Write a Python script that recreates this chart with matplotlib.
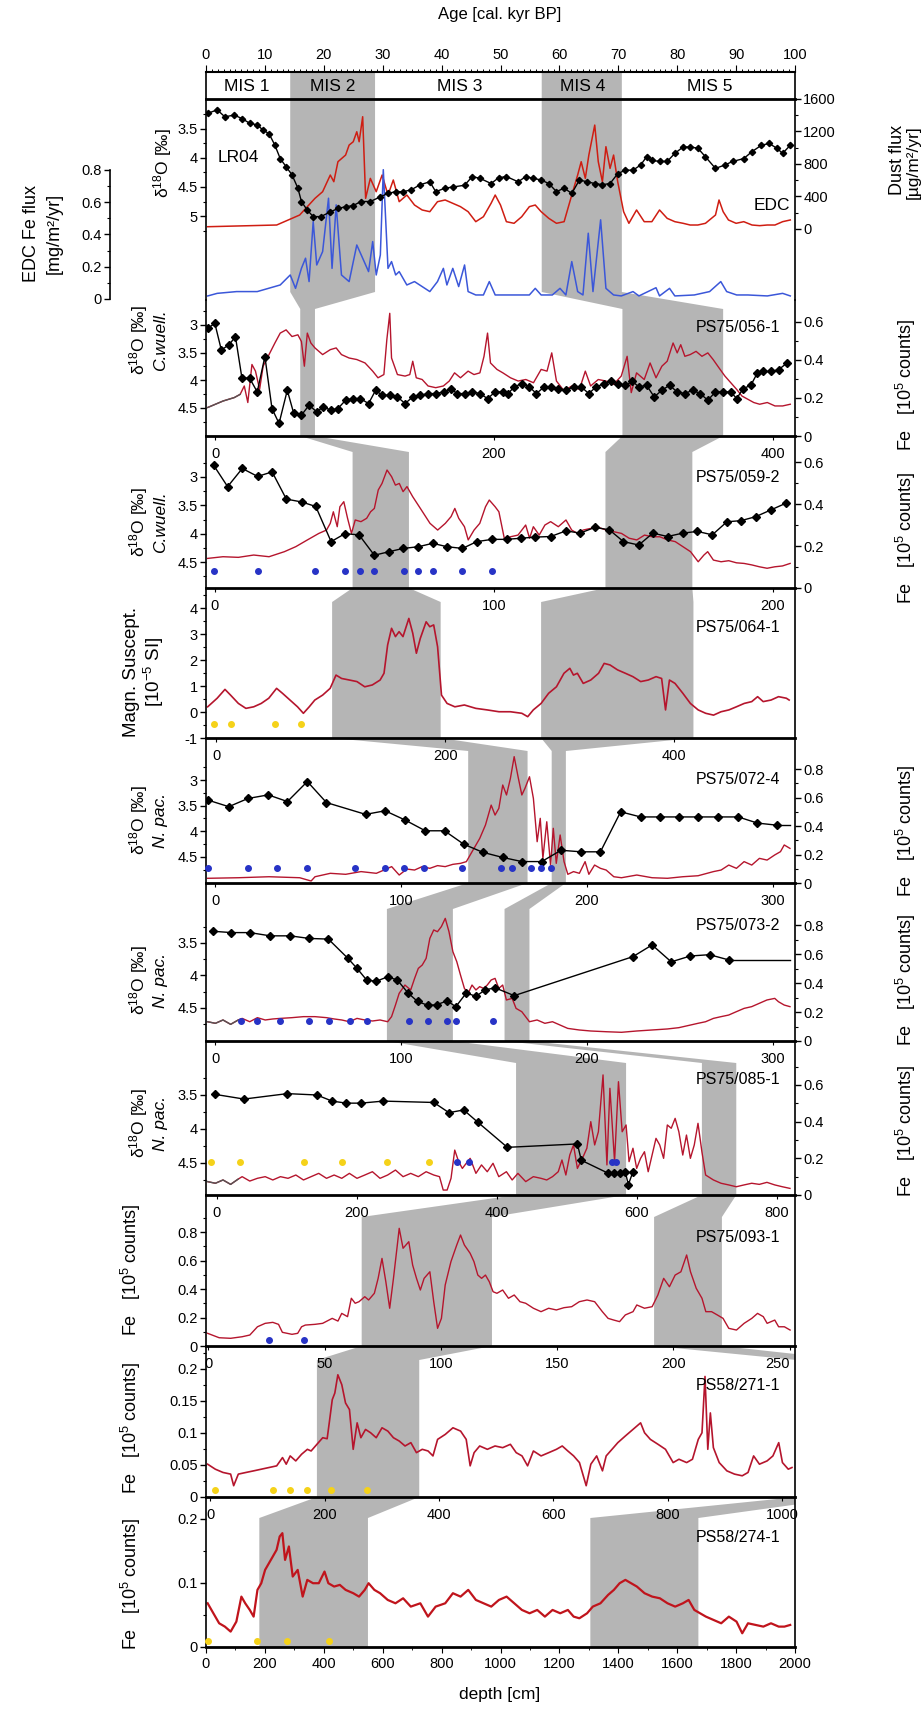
import matplotlib
matplotlib.use('Agg')
import matplotlib.pyplot as plt
from matplotlib import font_manager
from matplotlib.patches import Polygon, Rectangle
from matplotlib.ticker import FuncFormatter

plt.rcParams['font.family'] = ['Liberation Sans', 'DejaVu Sans']
plt.rcParams['mathtext.fontset'] = 'custom'
plt.rcParams['mathtext.rm'] = 'Liberation Sans'
plt.rcParams['mathtext.it'] = 'Liberation Sans:italic'
plt.rcParams['mathtext.bf'] = 'Liberation Sans:bold'

_names = {f.name for f in font_manager.fontManager.ttflist}
HAS_NARROW = 'Liberation Sans Narrow' in _names

# ---------------- data ----------------
mis_bounds = [0, 14, 29, 57, 71, 100]
mis_names = ['MIS 1', 'MIS 2', 'MIS 3', 'MIS 4', 'MIS 5']

# LR04 benthic stack (age kyr, d18O)
lr04_age = [0.3, 1.9, 3.2, 4.8, 6.1, 7.4, 8.7, 9.7, 10.7, 11.7,
            12.6, 13.6, 14.6, 15.6, 16.2, 17.2, 18.2, 19.5, 21.1, 22.4,
            23.7, 25.0, 26.3, 27.9, 29.6, 30.9, 32.2, 33.5, 34.8, 36.4,
            38.0, 39.0, 40.6, 41.9, 43.9, 45.2, 46.5, 48.4, 49.7, 51.0,
            53.0, 54.3, 55.6, 56.9, 58.2, 59.5, 60.8, 62.1, 63.4, 64.7,
            66.0, 67.3, 68.6, 69.9, 71.2, 72.5, 73.8, 74.8, 75.7, 77.0,
            78.3, 79.6, 81.0, 82.2, 83.5, 84.8, 86.5, 88.1, 89.4, 91.3,
            92.7, 94.3, 95.6, 96.9, 97.9, 99.2]
lr04_d18o = [3.23, 3.17, 3.29, 3.26, 3.32, 3.40, 3.43, 3.52, 3.58, 3.78,
             4.01, 4.15, 4.29, 4.52, 4.75, 4.90, 5.01, 5.01, 4.93, 4.87,
             4.84, 4.82, 4.75, 4.75, 4.67, 4.61, 4.58, 4.58, 4.55, 4.46,
             4.41, 4.58, 4.52, 4.50, 4.47, 4.32, 4.35, 4.44, 4.34, 4.32,
             4.41, 4.32, 4.35, 4.38, 4.44, 4.58, 4.52, 4.61, 4.38, 4.41,
             4.44, 4.46, 4.44, 4.27, 4.21, 4.21, 4.12, 3.98, 4.04, 4.06,
             4.06, 3.92, 3.81, 3.81, 3.83, 3.98, 4.18, 4.12, 4.06, 4.01,
             3.89, 3.78, 3.75, 3.83, 3.92, 3.78]

# EDC dust flux
edc_age = [0.3, 12.0, 15.9, 18.5, 19.8, 21.1, 21.7, 22.4, 23.7, 24.3,
           25.0, 25.6, 26.0, 26.6, 27.1, 27.9, 28.9, 29.9, 30.9, 31.8,
           32.8, 34.1, 35.4, 36.7, 38.0, 39.3, 40.6, 41.9, 43.2, 44.5,
           45.8, 47.1, 48.4, 49.1, 50.0, 51.0, 52.3, 53.6, 54.9, 55.9,
           56.9, 58.2, 59.5, 60.8, 62.1, 63.1, 63.7, 64.4, 65.0, 66.0,
           66.6, 67.3, 67.9, 68.6, 69.2, 69.9, 70.9, 71.8, 73.1, 74.4,
           75.7, 77.0, 78.3, 79.6, 81.0, 82.2, 83.5, 84.8, 86.5, 87.1,
           87.8, 88.7, 90.0, 91.3, 92.7, 94.0, 95.3, 96.6, 97.9, 99.2]
edc_dust = [28, 49, 172, 377, 459, 664, 582, 828, 910, 1033,
            1074, 1197, 1074, 1382, 377, 623, 459, 664, 418, 603,
            336, 418, 295, 234, 213, 336, 357, 316, 275, 213,
            90, 151, 316, 418, 295, 90, 70, 151, 275, 295,
            213, 131, 70, 90, 418, 664, 828, 623, 910, 1279,
            828, 582, 1013, 746, 910, 582, 213, 70, 234, 90,
            90, 234, 131, 90, 70, 49, 49, 70, 172, 357,
            213, 111, 70, 90, 49, 41, 49, 49, 90, 111]

# EDC Fe flux
edcfe_age = [0.3, 1.9, 5.2, 8.7, 12.6, 14.3, 15.2, 16.2, 16.9, 17.5,
             18.2, 18.8, 19.8, 20.8, 21.4, 22.1, 23.0, 24.3, 25.6, 26.6,
             27.6, 28.3, 28.9, 29.6, 30.1, 30.9, 31.5, 32.2, 32.8, 34.1,
             35.4, 36.7, 38.0, 39.3, 40.3, 40.9, 41.9, 42.9, 43.9, 44.5,
             45.8, 47.1, 48.1, 49.1, 51.0, 53.0, 54.9, 55.9, 56.9, 58.8,
             60.1, 61.1, 62.1, 63.1, 64.0, 64.9, 65.7, 67.0, 67.9, 69.2,
             70.5, 72.5, 73.5, 76.4, 77.0, 78.7, 79.6, 82.9, 85.5, 87.4,
             88.4, 90.1, 92.0, 95.3, 97.9, 99.2]
edcfe_flux = [0.019, 0.035, 0.046, 0.046, 0.087, 0.149, 0.066, 0.190, 0.253, 0.108,
              0.480, 0.211, 0.294, 0.625, 0.190, 0.584, 0.149, 0.108, 0.335, 0.253,
              0.170, 0.356, 0.149, 0.273, 0.802, 0.190, 0.232, 0.149, 0.170, 0.087,
              0.108, 0.077, 0.046, 0.108, 0.190, 0.087, 0.190, 0.077, 0.211, 0.046,
              0.025, 0.025, 0.108, 0.025, 0.025, 0.025, 0.025, 0.066, 0.025, 0.025,
              0.066, 0.025, 0.232, 0.046, 0.025, 0.408, 0.046, 0.491, 0.066, 0.025,
              0.019, 0.046, 0.019, 0.070, 0.019, 0.066, 0.019, 0.025, 0.046, 0.108,
              0.046, 0.025, 0.025, 0.019, 0.035, 0.019]

# PS75/056-1 (plotted on age)
c056_age = [0.3, 1.5, 2.6, 3.9, 5.0, 6.1, 7.4, 8.7, 10.0, 11.2,
            12.4, 13.8, 14.9, 16.2, 17.5, 18.8, 19.9, 21.2, 22.4, 23.7,
            25.0, 26.2, 27.6, 28.8, 29.9, 31.2, 32.5, 33.8, 35.1, 36.4,
            37.7, 39.0, 40.4, 41.6, 42.6, 43.9, 45.2, 46.5, 47.8, 49.1,
            50.4, 51.3, 52.3, 53.6, 54.9, 56.1, 57.4, 58.5, 59.8, 61.1,
            62.4, 63.7, 65.0, 66.2, 67.6, 68.7, 69.9, 71.2, 72.4, 73.5,
            74.8, 76.1, 77.4, 78.7, 80.0, 81.3, 82.6, 83.9, 85.2, 86.5,
            87.8, 89.1, 90.1, 91.2, 92.5, 93.6, 94.6, 95.9, 97.2, 98.6]
c056_d18o = [3.06, 2.97, 3.45, 3.36, 3.21, 3.96, 3.96, 4.21, 3.57, 4.51,
             4.78, 4.18, 4.60, 4.63, 4.45, 4.57, 4.48, 4.54, 4.51, 4.36,
             4.33, 4.33, 4.42, 4.18, 4.27, 4.27, 4.30, 4.42, 4.30, 4.27,
             4.24, 4.24, 4.21, 4.15, 4.24, 4.24, 4.21, 4.24, 4.33, 4.21,
             4.21, 4.24, 4.12, 4.06, 4.12, 4.24, 4.12, 4.12, 4.15, 4.18,
             4.12, 4.12, 4.24, 4.12, 4.06, 4.02, 4.06, 4.09, 4.02, 4.12,
             4.09, 4.30, 4.18, 4.09, 4.21, 4.24, 4.18, 4.24, 4.36, 4.21,
             4.21, 4.21, 4.33, 4.15, 4.09, 3.87, 3.84, 3.84, 3.81, 3.69]
c056_fe_age = [0.3, 2.9, 4.8, 5.8, 6.5, 7.1, 7.8, 8.4, 9.1, 9.7,
               10.7, 11.7, 12.6, 13.6, 14.6, 15.6, 16.2, 16.7, 17.2, 17.8,
               18.5, 19.8, 21.1, 22.1, 23.0, 24.3, 25.6, 27.0, 28.3, 29.2,
               30.2, 30.7, 31.2, 31.5, 32.5, 33.8, 34.6, 35.1, 35.7, 36.7,
               37.7, 39.0, 40.3, 41.3, 42.2, 43.2, 44.5, 45.5, 46.5, 47.2,
               47.8, 48.3, 49.4, 50.4, 51.7, 53.0, 54.3, 55.6, 56.9, 57.9,
               58.7, 59.5, 60.8, 62.1, 63.4, 64.4, 65.3, 66.6, 67.9, 69.2,
               70.5, 71.5, 72.2, 73.1, 74.4, 75.4, 76.4, 77.4, 78.3, 79.3,
               80.0, 80.6, 81.3, 82.2, 83.2, 84.2, 85.2, 86.1, 87.1, 88.1,
               89.1, 90.1, 91.0, 92.0, 93.0, 94.0, 95.3, 96.6, 97.9, 99.2]
c056_fe = [0.150, 0.184, 0.202, 0.219, 0.263, 0.176, 0.376, 0.341, 0.245, 0.367,
           0.428, 0.489, 0.541, 0.558, 0.523, 0.532, 0.497, 0.367, 0.541, 0.489,
           0.463, 0.428, 0.454, 0.463, 0.428, 0.410, 0.402, 0.384, 0.341, 0.306,
           0.323, 0.506, 0.645, 0.410, 0.323, 0.315, 0.323, 0.393, 0.306, 0.297,
           0.263, 0.254, 0.263, 0.289, 0.332, 0.306, 0.341, 0.323, 0.332, 0.419,
           0.541, 0.384, 0.350, 0.332, 0.306, 0.289, 0.297, 0.280, 0.350, 0.341,
           0.437, 0.289, 0.237, 0.263, 0.245, 0.341, 0.263, 0.297, 0.289, 0.271,
           0.315, 0.419, 0.228, 0.332, 0.297, 0.384, 0.306, 0.367, 0.393, 0.489,
           0.437, 0.480, 0.419, 0.428, 0.445, 0.419, 0.437, 0.402, 0.358, 0.315,
           0.280, 0.245, 0.210, 0.193, 0.176, 0.167, 0.176, 0.158, 0.158, 0.167]

# PS75/059-2 (depth cm)
c059_depth = [-1.1, 9.0, 19.5, 30.5, 40.9, 51.1, 62.0, 72.2, 83.2, 93.1,
              103.2, 114.2, 124.4, 134.8, 145.8, 156.0, 166.4, 177.4, 187.6, 198.6,
              209.0, 219.4, 229.6, 240.6, 251.6, 261.7, 272.2, 282.6, 292.8, 303.8,
              313.9, 324.4, 335.4, 345.8, 356.5, 367.0, 377.1, 387.6, 398.6, 409.5]
c059_d18o = [2.79, 3.17, 2.85, 2.99, 2.91, 3.39, 3.44, 3.52, 4.14, 4.00,
             4.02, 4.38, 4.32, 4.26, 4.23, 4.17, 4.23, 4.26, 4.14, 4.10,
             4.10, 4.08, 4.06, 4.05, 3.95, 3.99, 3.89, 3.93, 4.14, 4.20,
             3.99, 4.05, 3.99, 3.96, 4.02, 3.79, 3.77, 3.70, 3.58, 3.46]
c059_fe_depth = [-5.3, 5.7, 16.7, 27.7, 38.7, 49.7, 57.9, 66.2, 74.4, 79.9,
                 82.6, 84.8, 87.6, 89.5, 92.3, 95.0, 97.8, 100.5, 104.6, 108.7,
                 111.5, 114.2, 117.0, 119.7, 123.3, 126.6, 129.3, 132.1, 134.8, 137.6,
                 141.7, 147.2, 154.1, 159.6, 165.1, 169.2, 171.9, 174.7, 178.8, 181.5,
                 185.7, 189.8, 193.9, 196.6, 200.8, 203.5, 207.6, 211.8, 217.2, 222.7,
                 225.5, 228.2, 232.4, 236.5, 240.6, 246.1, 251.6, 255.7, 259.8, 263.9,
                 269.4, 274.9, 280.4, 285.9, 291.4, 296.9, 302.4, 307.9, 313.4, 318.9,
                 324.4, 329.9, 335.4, 340.9, 346.4, 350.5, 353.2, 357.3, 362.8, 368.3,
                 373.8, 379.3, 384.8, 390.3, 395.8, 401.3, 406.8, 412.3]
c059_fe = [0.141, 0.149, 0.146, 0.157, 0.149, 0.173, 0.197, 0.229, 0.260, 0.276,
           0.308, 0.363, 0.292, 0.387, 0.411, 0.332, 0.260, 0.324, 0.316, 0.332,
           0.363, 0.379, 0.467, 0.498, 0.562, 0.530, 0.490, 0.498, 0.459, 0.483,
           0.435, 0.379, 0.308, 0.276, 0.308, 0.340, 0.379, 0.332, 0.292, 0.229,
           0.276, 0.308, 0.387, 0.419, 0.387, 0.363, 0.229, 0.244, 0.252, 0.300,
           0.237, 0.292, 0.252, 0.300, 0.316, 0.292, 0.324, 0.276, 0.260, 0.276,
           0.284, 0.289, 0.276, 0.268, 0.260, 0.237, 0.229, 0.252, 0.244, 0.244,
           0.229, 0.221, 0.197, 0.173, 0.125, 0.157, 0.173, 0.133, 0.125, 0.130,
           0.120, 0.117, 0.110, 0.101, 0.094, 0.101, 0.105, 0.117]
c059_dates = [-1.1, 30.5, 71.7, 93.1, 104.1, 114.2, 135.4, 145.8, 156.0, 177.4, 198.6]
c059_dates_level = 4.66

# PS75/064-1 magnetic susceptibility
c064_depth = [-2.6, 0.8, 3.6, 5.6, 8.4, 11.1, 13.9, 16.6, 19.3, 22.1,
              24.2, 26.9, 29.6, 31.7, 33.8, 35.8, 38.6, 41.3, 43.4, 45.4,
              48.2, 50.9, 53.7, 56.4, 59.2, 60.6, 61.9, 63.3, 64.7, 66.0,
              67.4, 69.5, 70.9, 72.2, 73.6, 75.7, 77.0, 78.4, 79.8, 81.2,
              83.2, 86.0, 89.4, 93.5, 97.6, 101.8, 105.9, 110.0, 112.1, 114.1,
              116.9, 119.6, 122.4, 125.1, 127.2, 128.5, 129.9, 132.0, 134.7, 137.5,
              139.5, 141.6, 144.3, 147.1, 149.8, 152.6, 155.3, 158.1, 160.1, 161.5,
              162.9, 164.9, 167.7, 170.4, 173.2, 175.9, 178.7, 181.4, 184.2, 186.9,
              189.7, 192.4, 194.5, 196.5, 199.3, 202.0, 204.8, 205.8]
c064_ms = [0.20, 0.53, 0.87, 0.65, 0.33, 0.14, 0.20, 0.33, 0.53, 0.91,
           0.72, 0.46, 0.20, -0.05, 0.20, 0.46, 0.65, 0.91, 1.42, 1.29,
           1.23, 1.17, 0.97, 1.04, 1.23, 1.49, 2.58, 3.22, 2.90, 3.09,
           2.90, 3.60, 3.03, 2.26, 2.83, 3.47, 3.28, 3.35, 2.51, 0.65,
           0.33, 0.20, 0.27, 0.14, 0.08, 0.01, 0.01, -0.05, -0.18, 0.08,
           0.33, 0.72, 0.97, 1.49, 1.68, 1.42, 1.49, 1.10, 1.23, 1.49,
           1.87, 1.81, 1.62, 1.49, 1.36, 1.17, 1.23, 1.36, 1.29, 0.08,
           1.23, 1.10, 0.72, 0.33, 0.08, -0.05, -0.12, 0.01, 0.08, 0.20,
           0.33, 0.40, 0.59, 0.40, 0.46, 0.59, 0.53, 0.46]
c064_dates = [-0.2, 5.9, 21.4, 31.0]
c064_dates_level = -0.46

# PS75/072-4
c072_depth = [-7.6, 10.8, 27.6, 45.3, 62.1, 79.5, 96.2, 130.4, 147.5, 164.9,
              182.6, 199.4, 216.1, 232.9, 250.3, 267.0, 284.4, 301.2, 318.9, 335.7,
              353.4, 370.8, 387.6, 404.3, 421.1, 438.5, 456.2, 473.0, 489.7, 501.4]
c072_d18o = [3.39, 3.52, 3.36, 3.29, 3.42, 3.03, 3.44, 3.67, 3.60, 3.78,
             3.99, 3.99, 4.25, 4.41, 4.51, 4.59, 4.59, 4.37, 4.40, 4.40,
             3.62, 3.72, 3.72, 3.72, 3.72, 3.72, 3.72, 3.84, 3.88, 3.88]
c072_fe_depth = [-7.6, 19.2, 46.0, 72.8, 82.8, 86.2, 99.6, 113.0, 126.4, 139.8,
                 146.5, 153.2, 159.8, 166.5, 173.2, 179.9, 186.6, 193.3, 200.0, 206.7,
                 213.4, 218.5, 223.5, 230.2, 235.2, 240.2, 243.6, 246.9, 250.3, 253.6,
                 257.0, 260.3, 263.7, 267.0, 269.7, 273.7, 277.1, 280.4, 283.1, 285.4,
                 288.8, 292.1, 294.5, 297.1, 300.5, 303.9, 307.2, 312.2, 317.3, 322.3,
                 325.6, 330.6, 335.7, 340.7, 347.4, 354.1, 367.5, 380.9, 394.3, 407.7,
                 421.1, 434.5, 441.2, 447.9, 454.6, 461.3, 468.0, 474.7, 481.4, 488.1,
                 493.1, 496.4, 501.4]
c072_fe = [0.033, 0.037, 0.044, 0.037, 0.014, 0.044, 0.068, 0.061, 0.080, 0.068,
           0.091, 0.115, 0.056, 0.098, 0.091, 0.115, 0.103, 0.122, 0.115, 0.131,
           0.138, 0.150, 0.220, 0.313, 0.407, 0.547, 0.477, 0.524, 0.688, 0.618,
           0.734, 0.887, 0.746, 0.618, 0.664, 0.746, 0.594, 0.290, 0.454, 0.173,
           0.430, 0.126, 0.384, 0.138, 0.337, 0.150, 0.061, 0.080, 0.068, 0.150,
           0.061, 0.126, 0.103, 0.091, 0.044, 0.037, 0.056, 0.037, 0.033, 0.044,
           0.051, 0.080, 0.091, 0.126, 0.103, 0.150, 0.126, 0.173, 0.161, 0.197,
           0.220, 0.267, 0.243]
c072_dates = [-7.6, 27.6, 52.7, 78.8, 121.3, 147.1, 163.9, 181.6, 215.1, 248.6,
              258.6, 275.4, 283.8, 292.1]
c072_dates_level = 4.71

# PS75/073-2
c073_depth = [-1.0, 8.7, 18.6, 29.6, 40.3, 50.6, 60.9, 71.2, 76.3, 81.5,
              86.6, 92.8, 98.0, 103.8, 108.9, 114.5, 119.2, 124.8, 129.5, 135.1,
              140.3, 145.4, 150.6, 160.9, 224.8, 235.1, 245.4, 255.7, 266.0, 276.3,
              309.3]
c073_d18o = [3.32, 3.34, 3.34, 3.39, 3.39, 3.43, 3.44, 3.73, 3.89, 4.07,
             4.09, 4.02, 4.07, 4.27, 4.40, 4.46, 4.45, 4.39, 4.48, 4.27,
             4.32, 4.22, 4.19, 4.31, 3.71, 3.53, 3.79, 3.70, 3.68, 3.76,
             3.76]
c073_fe_depth = [-4.1, 0.1, 4.2, 8.3, 12.4, 14.5, 18.6, 22.7, 26.9, 31.0,
                 35.1, 41.3, 47.5, 53.7, 59.9, 64.0, 68.1, 72.2, 76.3, 80.5,
                 84.6, 88.7, 92.8, 94.9, 97.0, 99.0, 102.1, 105.2, 107.3, 109.3,
                 111.4, 113.5, 115.5, 117.6, 119.6, 121.7, 123.8, 125.8, 127.9, 130.0,
                 132.0, 134.1, 136.1, 138.2, 140.3, 142.3, 144.4, 146.4, 148.5, 150.6,
                 152.6, 154.7, 156.7, 159.8, 161.9, 165.0, 169.1, 173.2, 177.4, 181.5,
                 185.6, 189.7, 195.9, 202.1, 210.4, 218.6, 226.8, 235.1, 243.3, 249.5,
                 255.7, 259.8, 263.9, 268.1, 272.2, 276.3, 280.4, 284.6, 288.7, 292.8,
                 296.9, 301.1, 303.1, 306.2, 309.3]
c073_fe = [0.133, 0.122, 0.145, 0.115, 0.145, 0.156, 0.133, 0.161, 0.145, 0.152,
           0.156, 0.161, 0.168, 0.168, 0.161, 0.152, 0.145, 0.133, 0.156, 0.145,
           0.138, 0.145, 0.133, 0.168, 0.248, 0.329, 0.386, 0.352, 0.432, 0.501,
           0.524, 0.570, 0.708, 0.766, 0.754, 0.789, 0.846, 0.754, 0.616, 0.547,
           0.455, 0.363, 0.329, 0.386, 0.352, 0.375, 0.363, 0.386, 0.421, 0.432,
           0.363, 0.386, 0.283, 0.294, 0.225, 0.202, 0.133, 0.145, 0.122, 0.133,
           0.110, 0.087, 0.076, 0.069, 0.064, 0.060, 0.069, 0.076, 0.083, 0.092,
           0.110, 0.122, 0.133, 0.156, 0.168, 0.179, 0.202, 0.225, 0.237, 0.260,
           0.283, 0.294, 0.271, 0.248, 0.237]
c073_dates = [14.1, 22.3, 34.7, 50.6, 61.5, 72.8, 81.5, 104.2, 114.5, 124.8, 129.5, 149.5]
c073_dates_level = 4.70

# PS75/085-1
c085_depth = [-0.3, 15.5, 38.8, 54.7, 62.9, 70.6, 78.4, 90.4, 117.6, 125.8,
              133.7, 141.3, 157.2, 194.9, 197.0, 211.4, 214.5, 217.6, 220.7, 222.3,
              224.8]
c085_d18o = [3.49, 3.56, 3.48, 3.50, 3.59, 3.62, 3.62, 3.59, 3.61, 3.76,
             3.72, 3.90, 4.27, 4.22, 4.46, 4.65, 4.65, 4.65, 4.63, 4.82,
             4.63]
c085_fe_depth = [-4.1, 0.1, 4.2, 8.3, 12.4, 14.5, 18.6, 22.7, 26.9, 31.0,
                 35.1, 39.2, 43.4, 47.5, 51.6, 55.7, 59.9, 64.0, 68.1, 72.2,
                 76.3, 80.5, 84.6, 88.7, 92.8, 97.0, 101.1, 105.2, 109.3, 113.5,
                 117.6, 120.7, 122.7, 124.8, 126.9, 128.9, 131.0, 133.0, 135.1, 137.2,
                 140.3, 143.3, 146.4, 149.5, 152.6, 156.7, 159.8, 162.9, 167.1, 171.2,
                 175.3, 178.4, 181.5, 184.6, 186.6, 188.7, 190.8, 192.8, 194.9, 198.0,
                 200.0, 202.1, 204.2, 206.2, 208.7, 210.8, 212.4, 214.9, 217.0, 219.0,
                 221.1, 222.7, 224.8, 226.8, 228.9, 231.0, 233.0, 235.1, 237.2, 239.2,
                 241.3, 243.3, 245.4, 247.5, 249.5, 251.6, 253.6, 255.7, 257.8, 259.8,
                 261.9, 263.9, 268.1, 272.2, 276.3, 280.4, 284.6, 288.7, 292.8, 296.9,
                 301.1, 305.2, 309.3]
c085_fe = [0.073, 0.064, 0.082, 0.058, 0.087, 0.100, 0.076, 0.091, 0.100, 0.082,
           0.100, 0.091, 0.109, 0.082, 0.100, 0.118, 0.091, 0.109, 0.091, 0.118,
           0.091, 0.109, 0.127, 0.091, 0.109, 0.136, 0.100, 0.118, 0.100, 0.127,
           0.109, 0.100, 0.027, 0.027, 0.091, 0.245, 0.182, 0.145, 0.173, 0.200,
           0.118, 0.164, 0.127, 0.173, 0.100, 0.127, 0.082, 0.118, 0.073, 0.100,
           0.091, 0.082, 0.100, 0.127, 0.191, 0.109, 0.218, 0.273, 0.145, 0.209,
           0.255, 0.400, 0.273, 0.345, 0.655, 0.164, 0.582, 0.182, 0.618, 0.345,
           0.382, 0.182, 0.255, 0.145, 0.200, 0.236, 0.127, 0.218, 0.309, 0.273,
           0.200, 0.382, 0.364, 0.418, 0.345, 0.218, 0.327, 0.200, 0.273, 0.391,
           0.236, 0.109, 0.082, 0.064, 0.055, 0.045, 0.055, 0.064, 0.058, 0.069,
           0.055, 0.045, 0.036]
c085_dates_y = [-2.4, 13.5, 47.9, 68.5, 92.4, 114.9]
c085_dates_b = [130.0, 136.5, 213.4, 215.5]
c085_dates_level = 4.49

# PS75/093-1
c093_depth = [-13.4, 3.1, 19.5, 35.9, 46.9, 57.8, 68.8, 79.7, 87.9, 93.4,
              107.1, 115.3, 120.8, 126.2, 139.9, 150.9, 164.6, 172.8, 178.2, 186.5,
              191.9, 197.4, 202.9, 211.1, 216.6, 224.8, 230.2, 235.7, 241.2, 246.7,
              252.1, 257.6, 260.3, 265.8, 274.0, 279.5, 285.0, 290.5, 295.9, 304.1,
              309.6, 315.1, 320.6, 326.0, 334.2, 342.5, 347.9, 353.4, 361.6, 367.1,
              372.6, 378.0, 383.5, 389.0, 394.4, 399.9, 408.1, 416.4, 424.6, 432.8,
              441.0, 452.0, 462.9, 473.8, 484.8, 495.7, 506.7, 517.6, 528.6, 539.5,
              550.5, 558.7, 566.9, 575.1, 583.3, 594.3, 599.7, 610.7, 621.6, 629.8,
              638.1, 646.3, 654.5, 662.7, 670.9, 676.4, 684.6, 692.8, 698.3, 706.5,
              714.7, 722.9, 731.1, 742.1, 753.0, 764.0, 772.2, 780.4, 785.9, 796.8,
              802.3, 810.5, 818.7]
c093_fe = [0.089, 0.058, 0.054, 0.065, 0.077, 0.135, 0.159, 0.166, 0.152, 0.096,
           0.082, 0.089, 0.135, 0.147, 0.152, 0.159, 0.194, 0.175, 0.229, 0.206,
           0.335, 0.300, 0.311, 0.346, 0.323, 0.370, 0.475, 0.615, 0.451, 0.265,
           0.475, 0.709, 0.826, 0.686, 0.732, 0.568, 0.475, 0.393, 0.475, 0.521,
           0.311, 0.124, 0.194, 0.428, 0.592, 0.709, 0.779, 0.709, 0.651, 0.592,
           0.498, 0.475, 0.498, 0.451, 0.381, 0.370, 0.393, 0.335, 0.358, 0.311,
           0.300, 0.265, 0.241, 0.265, 0.253, 0.269, 0.276, 0.311, 0.323, 0.311,
           0.241, 0.194, 0.182, 0.171, 0.218, 0.241, 0.288, 0.265, 0.276, 0.358,
           0.475, 0.416, 0.498, 0.521, 0.639, 0.521, 0.405, 0.335, 0.241, 0.241,
           0.218, 0.194, 0.124, 0.112, 0.159, 0.194, 0.229, 0.206, 0.159, 0.182,
           0.135, 0.135, 0.112]
c093_dates = [74.2, 124.6]
c093_dates_level = 0.042

# PS58/271-1
c271_depth = [-0.3, 3.0, 6.3, 9.6, 10.9, 12.9, 16.2, 19.5, 22.8, 26.1,
              29.4, 31.9, 33.5, 35.2, 37.6, 40.1, 42.6, 44.2, 46.7, 49.2,
              51.1, 52.1, 53.3, 54.4, 55.7, 57.4, 59.0, 60.7, 62.3, 64.0,
              65.6, 67.6, 69.8, 72.2, 74.7, 77.2, 79.6, 82.1, 84.6, 87.1,
              89.5, 92.0, 94.5, 96.6, 98.6, 101.9, 105.2, 108.5, 110.9, 112.6,
              114.3, 116.7, 120.0, 123.3, 126.6, 129.9, 132.4, 134.9, 137.3, 139.8,
              143.1, 146.4, 149.7, 152.2, 154.6, 157.1, 159.6, 162.5, 164.5, 167.0,
              169.5, 171.1, 173.6, 176.1, 179.3, 182.6, 185.9, 187.6, 190.1, 193.4,
              196.6, 199.9, 202.4, 205.7, 208.2, 210.7, 212.3, 213.6, 214.8, 215.9,
              217.2, 219.7, 223.0, 226.3, 229.6, 232.1, 234.5, 237.0, 240.3, 242.8,
              245.3, 246.9, 249.4, 251.0]
c271_fe = [0.0512, 0.0434, 0.0383, 0.0357, 0.0176, 0.0357, 0.0383, 0.0408, 0.0434, 0.0460,
           0.0486, 0.0615, 0.0512, 0.0641, 0.0563, 0.0667, 0.0744, 0.0718, 0.0822, 0.0925,
           0.0909, 0.1183, 0.1519, 0.1622, 0.1907, 0.1752, 0.1467, 0.1364, 0.0744, 0.1157,
           0.0925, 0.1054, 0.1002, 0.0925, 0.1080, 0.1028, 0.0925, 0.0873, 0.0796, 0.0848,
           0.0692, 0.0744, 0.0718, 0.0641, 0.0899, 0.0977, 0.1080, 0.1028, 0.0899, 0.0486,
           0.0692, 0.0796, 0.0744, 0.0796, 0.0770, 0.0822, 0.0692, 0.0641, 0.0486, 0.0718,
           0.0641, 0.0692, 0.0744, 0.0796, 0.0718, 0.0641, 0.0537, 0.0176, 0.0512, 0.0641,
           0.0408, 0.0641, 0.0744, 0.0848, 0.0951, 0.1054, 0.1157, 0.1002, 0.0899, 0.0822,
           0.0744, 0.0537, 0.0589, 0.0537, 0.0589, 0.0899, 0.1002, 0.1881, 0.0744, 0.1312,
           0.0770, 0.0537, 0.0408, 0.0357, 0.0331, 0.0383, 0.0641, 0.0512, 0.0563, 0.0641,
           0.0848, 0.0537, 0.0434, 0.0460]
c271_dates = [2.7, 27.7, 35.2, 42.6, 52.8, 68.1]
c271_dates_level = 0.0114

# PS58/274-1
c274_depth = [-4.4, 5.6, 15.7, 25.7, 35.8, 45.8, 54.6, 61.3, 69.3, 76.0,
              82.7, 89.4, 96.1, 102.8, 109.5, 116.2, 121.6, 126.3, 131.0, 137.7,
              144.4, 153.1, 161.8, 169.9, 179.9, 190.0, 200.0, 206.7, 216.8, 226.8,
              236.9, 250.3, 260.4, 270.4, 277.1, 287.2, 297.2, 310.6, 324.1, 337.5,
              350.9, 367.6, 381.0, 394.4, 411.2, 424.6, 438.0, 451.4, 464.8, 478.2,
              491.7, 505.1, 518.5, 531.9, 545.3, 558.7, 572.1, 585.5, 598.9, 612.3,
              625.7, 635.8, 645.8, 659.3, 669.3, 682.7, 696.1, 706.2, 716.2, 726.3,
              736.3, 746.4, 759.8, 773.2, 786.6, 800.0, 813.4, 826.9, 836.9, 846.9,
              857.0, 867.1, 880.5, 893.9, 907.3, 920.7, 930.7, 940.8, 954.2, 967.6,
              981.0, 994.5, 1004.5, 1014.6]
c274_fe = [0.0682, 0.0526, 0.0370, 0.0318, 0.0240, 0.0396, 0.0786, 0.0682, 0.0578, 0.0474,
           0.0891, 0.0995, 0.1203, 0.1307, 0.1411, 0.1516, 0.1724, 0.1776, 0.1359, 0.1568,
           0.1099, 0.1203, 0.0786, 0.1047, 0.0995, 0.0995, 0.1177, 0.0995, 0.0943, 0.0969,
           0.0891, 0.0839, 0.0786, 0.0891, 0.0995, 0.0891, 0.0839, 0.0734, 0.0682, 0.0760,
           0.0630, 0.0682, 0.0474, 0.0630, 0.0682, 0.0839, 0.0786, 0.0891, 0.0734, 0.0682,
           0.0630, 0.0734, 0.0786, 0.0682, 0.0578, 0.0526, 0.0578, 0.0474, 0.0578, 0.0526,
           0.0578, 0.0474, 0.0448, 0.0526, 0.0630, 0.0682, 0.0813, 0.0891, 0.0995, 0.1047,
           0.0995, 0.0943, 0.0839, 0.0786, 0.0760, 0.0682, 0.0630, 0.0682, 0.0734, 0.0578,
           0.0526, 0.0474, 0.0422, 0.0370, 0.0474, 0.0396, 0.0214, 0.0370, 0.0344, 0.0318,
           0.0370, 0.0318, 0.0318, 0.0344]
c274_dates = [-3.1, 81.4, 135.0, 208.7]
c274_dates_level = 0.0099

# correlated intervals (grey bands) in each record's own x units
bands_age = [(14.3, 28.7), (57.0, 70.6)]
bands_056 = [(16.0, 18.5), (70.7, 87.8)]
bands_059 = [(98.6, 139.0), (279.9, 342.2)]
bands_064 = [(42.0, 80.9), (116.9, 171.5)]
bands_072 = [(220.1, 272.0), (293.1, 305.5)]
bands_073 = [(92.4, 127.9), (155.7, 169.1)]
bands_085 = [(161.9, 221.1), (261.9, 280.4)]
bands_093 = [(206.7, 392.8), (624.4, 721.3)]
bands_271 = [(46.7, 90.7), (253.0, 276.0)]
bands_274 = [(86.0, 276.0), (665.0, 854.0)]

# ---------------- figure ----------------
W, H = 924, 1709
X0, X1 = 206, 795
RED = '#b5152d'
EDC_RED = '#cf1d12'
BLUE = '#3b57d9'
DOT_BLUE = '#2733c6'
DOT_YEL = '#f5d219'
GREY = '#b5b5b5'
TS = 10.5
if HAS_NARROW:
    NAME_FONT = dict(family=['Liberation Sans Narrow', 'DejaVu Sans'], fontsize=13.5)
else:
    NAME_FONT = dict(fontsize=11.5)

fig = plt.figure(figsize=(W / 100, H / 100), dpi=100)
gfmt = FuncFormatter(lambda v, p: '%g' % v)


def panel(top, bottom, z=3):
    ax = fig.add_axes([X0 / W, 1 - bottom / H, (X1 - X0) / W, (bottom - top) / H], zorder=z)
    ax.patch.set_visible(False)
    ax.spines['top'].set_visible(False)
    ax.spines['left'].set_linewidth(1.2)
    ax.spines['right'].set_linewidth(1.2)
    ax.spines['bottom'].set_linewidth(2)
    ax.tick_params(axis='x', which='both', bottom=False, top=False,
                   labelbottom=False, labeltop=False)
    ax.tick_params(axis='y', which='both', right=False, labelright=False)
    return ax


def yticks(ax, major, minor):
    ax.set_yticks(major)
    ax.set_yticks(minor, minor=True)
    ax.yaxis.set_major_formatter(gfmt)
    ax.tick_params(axis='y', which='major', length=4, width=1, labelsize=TS, pad=2)
    ax.tick_params(axis='y', which='minor', length=2, width=0.8)


def twin(ax, ylim, major, minor):
    t = ax.twinx()
    t.set_zorder(ax.get_zorder() - 1)
    for s in ['left', 'top', 'bottom']:
        t.spines[s].set_visible(False)
    t.spines['right'].set_linewidth(1.2)
    yticks(t, major, minor)
    t.set_ylim(*ylim)
    ax.spines['right'].set_visible(False)
    return t


def depth_ticks(ax, ticks, xlim):
    ax.set_xticks(ticks)
    ax.xaxis.set_major_formatter(gfmt)
    ax.tick_params(axis='x', which='major', top=True, labeltop=True, direction='in',
                   length=3, pad=-18, labelsize=TS)
    ax.set_xlim(*xlim)


def ftext(x, y, s, **kw):
    kw.setdefault('ha', 'center')
    kw.setdefault('va', 'center')
    fig.text(x / W, 1 - y / H, s, **kw)


def dots(ax, xs, level, color):
    ax.plot(xs, [level] * len(xs), 'o', color=color, ms=4, ls='none', clip_on=False, zorder=4)


D18O = 'δ$^{18}$O [‰]'
FE = 'Fe   [10$^5$ counts]'

# background axes for the grey correlation bands (pixel units, y from top)
axb = fig.add_axes([0, 0, 1, 1], zorder=0)
axb.set_xlim(0, W)
axb.set_ylim(H, 0)
axb.axis('off')

# MIS strip with the age axis
ax_mis = panel(72, 99)
ax_mis.spines['top'].set_visible(True)
ax_mis.spines['top'].set_linewidth(1.5)
ax_mis.set_yticks([])
ax_mis.xaxis.set_ticks_position('top')
ax_mis.set_xticks(range(0, 101, 10))
ax_mis.set_xticks(range(0, 101), minor=True)
ax_mis.tick_params(axis='x', which='major', top=True, labeltop=True, direction='out',
                   length=5, labelsize=TS, pad=2)
ax_mis.tick_params(axis='x', which='minor', top=True, direction='out', length=2.5, width=0.7)
ax_mis.set_xlim(0, 100)
ax_mis.set_ylim(0, 1)
for a, b, name in zip(mis_bounds[:-1], mis_bounds[1:], mis_names):
    ax_mis.text((a + b) / 2, 0.45, name, ha='center', va='center', fontsize=12.5)

# LR04 / EDC
ax_top = panel(99, 300)
ax_top.spines['bottom'].set_visible(False)
ax_top.plot(lr04_age, lr04_d18o, color='k', lw=1, marker='D', ms=3.2)
yticks(ax_top, [3.5, 4, 4.5, 5], [3.25, 3.75, 4.25, 4.75, 5.25])
ax_top.set_xlim(0, 100)
ax_top.set_ylim(6.448, 2.983)
ax_dust = twin(ax_top, (-874, 1600), [0, 400, 800, 1200, 1600], [200, 600, 1000, 1400])
ax_dust.plot(edc_age, edc_dust, color=EDC_RED, lw=1.1)

ax_fe = fig.add_axes([X0 / W, 1 - 299 / H, (X1 - X0) / W, (299 - 170) / H], zorder=2.5)
ax_fe.patch.set_visible(False)
for s in ['top', 'right', 'bottom']:
    ax_fe.spines[s].set_visible(False)
ax_fe.spines['left'].set_position(('outward', 96 * 0.72))
ax_fe.spines['left'].set_linewidth(1.2)
ax_fe.tick_params(axis='x', which='both', bottom=False, labelbottom=False)
ax_fe.plot(edcfe_age, edcfe_flux, color=BLUE, lw=1.1, clip_on=False)
yticks(ax_fe, [0, 0.2, 0.4, 0.6, 0.8], [0.1, 0.3, 0.5, 0.7])
ax_fe.set_xlim(0, 100)
ax_fe.set_ylim(0, 0.8)

# PS75/056-1
ax056 = panel(300, 436)
ax056.plot(c056_age, c056_d18o, color='k', lw=1, marker='D', ms=4)
yticks(ax056, [3, 3.5, 4, 4.5], [2.75, 3.25, 3.75, 4.25, 4.75])
ax056.set_xlim(0, 100)
ax056.set_ylim(5.007, 2.548)
t056 = twin(ax056, (0, 0.715), [0, 0.2, 0.4, 0.6], [0.1, 0.3, 0.5])
t056.plot(c056_fe_age, c056_fe, color=RED, lw=1)
t056.plot(c056_fe_age[:4], c056_fe[:4], color='#555555', lw=1)

# PS75/059-2
ax059 = panel(436, 588)
ax059.plot(c059_depth, c059_d18o, color='k', lw=1, marker='D', ms=4)
dots(ax059, c059_dates, c059_dates_level, DOT_BLUE)
yticks(ax059, [3, 3.5, 4, 4.5], [2.75, 3.25, 3.75, 4.25, 4.75])
ax059.set_ylim(4.958, 2.277)
depth_ticks(ax059, [0, 200, 400], (-6.5, 415.8))
t059 = twin(ax059, (0, 0.724), [0, 0.2, 0.4, 0.6], [0.1, 0.3, 0.5])
t059.plot(c059_fe_depth, c059_fe, color=RED, lw=1)

# PS75/064-1
ax064 = panel(588, 738)
ax064.plot(c064_depth, c064_ms, color=RED, lw=1.2)
dots(ax064, c064_dates, c064_dates_level, DOT_YEL)
yticks(ax064, [-1, 0, 1, 2, 3, 4], [-0.5, 0.5, 1.5, 2.5, 3.5, 4.5])
ax064.set_ylim(-1, 4.77)
depth_ticks(ax064, [0, 100, 200], (-3.2, 207.9))

# PS75/072-4
ax072 = panel(738, 883)
ax072.plot(c072_depth[:-1], c072_d18o[:-1], color='k', lw=1, marker='D', ms=4)
ax072.plot(c072_depth[-2:], c072_d18o[-2:], color='k', lw=1)
dots(ax072, c072_dates, c072_dates_level, DOT_BLUE)
yticks(ax072, [3, 3.5, 4, 4.5], [2.75, 3.25, 3.75, 4.25, 4.75])
ax072.set_ylim(5.008, 2.181)
depth_ticks(ax072, [0, 200, 400], (-9.1, 505.8))
t072 = twin(ax072, (0, 1.018), [0, 0.2, 0.4, 0.6, 0.8], [0.1, 0.3, 0.5, 0.7])
t072.plot(c072_fe_depth, c072_fe, color=RED, lw=1)

# PS75/073-2
ax073 = panel(883, 1041)
ax073.plot(c073_depth[:-1], c073_d18o[:-1], color='k', lw=1, marker='D', ms=4)
ax073.plot(c073_depth[-2:], c073_d18o[-2:], color='k', lw=1)
dots(ax073, c073_dates, c073_dates_level, DOT_BLUE)
yticks(ax073, [3.5, 4, 4.5], [3.25, 3.75, 4.25, 4.75])
ax073.set_ylim(5.008, 2.577)
depth_ticks(ax073, [0, 100, 200, 300], (-4.95, 312.0))
t073 = twin(ax073, (0, 1.090), [0, 0.2, 0.4, 0.6, 0.8], [0.1, 0.3, 0.5, 0.7])
t073.plot(c073_fe_depth, c073_fe, color=RED, lw=1)
t073.plot(c073_fe_depth[:5], c073_fe[:5], color='#555555', lw=1)

# PS75/085-1
ax085 = panel(1041, 1195)
ax085.plot(c085_depth, c085_d18o, color='k', lw=1, marker='D', ms=4)
dots(ax085, c085_dates_y, c085_dates_level, DOT_YEL)
dots(ax085, c085_dates_b, c085_dates_level, DOT_BLUE)
yticks(ax085, [3.5, 4, 4.5], [3.25, 3.75, 4.25, 4.75])
ax085.set_ylim(4.971, 2.706)
depth_ticks(ax085, [0, 100, 200, 300], (-4.95, 312.0))
t085 = twin(ax085, (0, 0.840), [0, 0.2, 0.4, 0.6], [0.1, 0.3, 0.5, 0.7])
t085.plot(c085_fe_depth, c085_fe, color=RED, lw=1)
t085.plot(c085_fe_depth[:5], c085_fe[:5], color='#555555', lw=1)

# PS75/093-1
ax093 = panel(1195, 1346)
ax093.plot(c093_depth, c093_fe, color=RED, lw=1)
dots(ax093, c093_dates, c093_dates_level, DOT_BLUE)
yticks(ax093, [0, 0.2, 0.4, 0.6, 0.8], [0.1, 0.3, 0.5, 0.7, 0.9])
ax093.set_ylim(0, 1.060)
depth_ticks(ax093, [0, 200, 400, 600, 800], (-15.7, 825.7))

# PS58/271-1
ax271 = panel(1346, 1497)
ax271.plot(c271_depth, c271_fe, color=RED, lw=1.2)
dots(ax271, c271_dates, c271_dates_level, DOT_YEL)
yticks(ax271, [0, 0.05, 0.1, 0.15, 0.2], [0.025, 0.075, 0.125, 0.175, 0.225])
ax271.set_ylim(0, 0.2356)
depth_ticks(ax271, [0, 50, 100, 150, 200, 250], (-1.0, 252.3))
ax271.xaxis.get_major_ticks()[-1].label2.set_horizontalalignment('right')

# PS58/274-1 with the common depth axis underneath
ax274 = panel(1497, 1647)
axd = ax274.twiny()
axd.set_zorder(ax274.get_zorder() - 1)
for s in ['left', 'right', 'top', 'bottom']:
    axd.spines[s].set_visible(False)
axd.xaxis.set_ticks_position('bottom')
axd.set_xticks(range(0, 2001, 200))
axd.set_xticks(range(100, 2000, 200), minor=True)
axd.tick_params(axis='x', which='major', bottom=True, labelbottom=True, top=False,
                labeltop=False, direction='out', length=4, labelsize=TS, pad=3)
axd.tick_params(axis='x', which='minor', bottom=True, top=False, direction='out', length=2)
axd.set_xlim(0, 2000)
ax274.plot(c274_depth, c274_fe, color='#c0141c', lw=1.6)
dots(ax274, c274_dates, c274_dates_level, DOT_YEL)
yticks(ax274, [0, 0.1, 0.2], [0.05, 0.15])
ax274.set_ylim(0, 0.234)
ax274.xaxis.set_ticks_position('top')
depth_ticks(ax274, [0, 200, 400, 600, 800, 1000], (-7.3, 1023.0))
ax274.tick_params(axis='x', which='both', bottom=False, labelbottom=False)

for ax in [ax064, ax093, ax271, ax274]:
    ax.spines['right'].set_visible(True)

# grey bands chained through all records
chain = [(ax_mis, bands_age, 72, 292), (ax056, bands_056, 309, 436),
         (ax059, bands_059, 452, 588), (ax064, bands_064, 602, 738),
         (ax072, bands_072, 751, 883), (ax073, bands_073, 909, 1041),
         (ax085, bands_085, 1063, 1195), (ax093, bands_093, 1217, 1346),
         (ax271, bands_271, 1360, 1497), (ax274, bands_274, 1518, 1647)]
clip = Rectangle((X0, 0), X1 - X0, H, transform=axb.transData)
for j in range(2):
    left, right = [], []
    for ax, bands, ytop, ybot in chain:
        xa = ax.transData.transform((bands[j][0], 0))[0]
        xb = ax.transData.transform((bands[j][1], 0))[0]
        left += [(xa, ytop), (xa, ybot)]
        right += [(xb, ytop), (xb, ybot)]
    poly = Polygon(left + right[::-1], closed=True, facecolor=GREY, edgecolor='none')
    axb.add_patch(poly)
    poly.set_clip_path(clip)

# texts
ftext(500, 14, 'Age [cal. kyr BP]', fontsize=12)
ftext(500, 1694, 'depth [cm]', fontsize=12.5)
ftext(238, 157, 'LR04', fontsize=12.5)
ftext(772, 205, 'EDC', fontsize=12.5)

ftext(163, 163, D18O, rotation=90, fontsize=12.5)
ftext(32, 233, 'EDC Fe flux', rotation=90, fontsize=13)
ftext(54, 233, '[mg/m²/yr]', rotation=90, fontsize=13)
ftext(897, 160, 'Dust flux', rotation=90, fontsize=13)
ftext(913, 162, '[µg/m²/yr]', rotation=90, fontsize=12.5)

for y, second in [(340, 'C.wuell.'), (522, 'C.wuell.'), (820, 'N. pac.'),
                  (980, 'N. pac.'), (1123, 'N. pac.')]:
    ftext(139, y, D18O, rotation=90, fontsize=12.5)
    ftext(161, y, second, rotation=90, fontsize=12.5, style='italic')
ftext(131, 672, 'Magn. Suscept.', rotation=90, fontsize=13.5)
ftext(154, 672, '[10$^{-5}$ SI]', rotation=90, fontsize=13.5)
for y in [1270, 1428, 1584]:
    ftext(131, y, FE, rotation=90, fontsize=13)
for y in [385, 538, 831, 980, 1131]:
    ftext(906, y, FE, rotation=90, fontsize=13)

for y, name in [(328, 'PS75/056-1'), (478, 'PS75/059-2'), (628, 'PS75/064-1'),
                (780, 'PS75/072-4'), (925, 'PS75/073-2'), (1080, 'PS75/085-1'),
                (1238, 'PS75/093-1'), (1385, 'PS58/271-1'), (1537, 'PS58/274-1')]:
    ftext(780, y, name, ha='right', **NAME_FONT)

fig.savefig('out.png', dpi=100)
